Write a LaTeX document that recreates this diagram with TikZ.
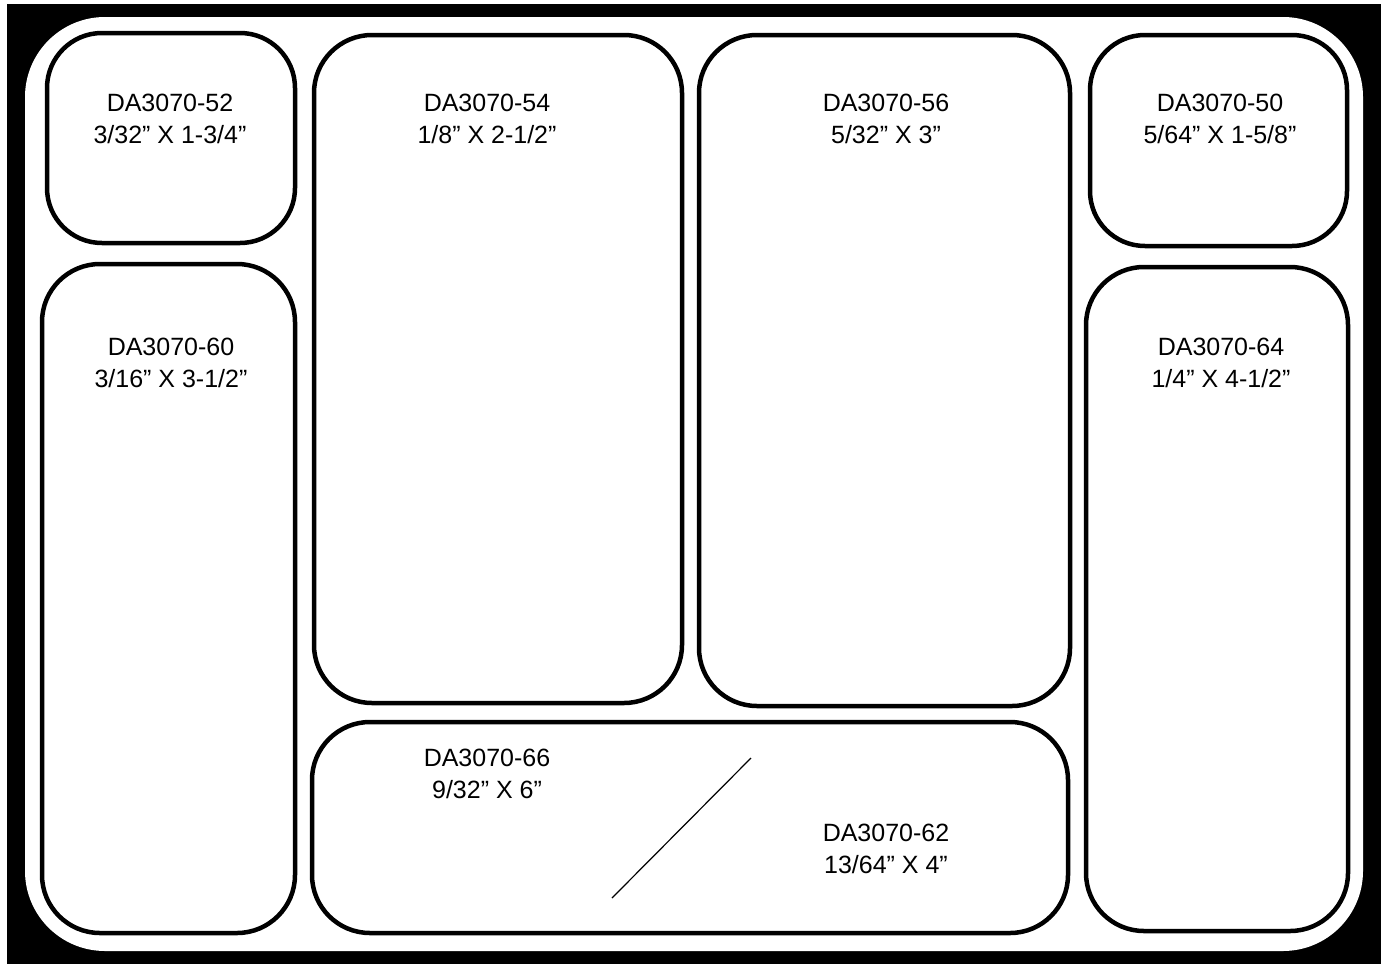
\documentclass[tikz,border=0pt]{standalone}
\usepackage{fontspec}
\setmainfont{Liberation Sans}
\begin{document}
\begin{tikzpicture}[
  x=1pt, y=-1pt,
  bin/.style ={draw,line width=4.5pt,rounded corners=58pt},
  tag/.style ={align=center,inner sep=0pt,
               font=\fontsize{25}{32}\selectfont},
  cut/.style ={line width=1.2pt}]
\useasboundingbox (0,0) rectangle (1381,964);

% --- black backing and white tray ---
\fill[black] (7,4) rectangle (1381,964);
\fill[white,rounded corners=80pt] (25,17) rectangle (1363,951);

% --- left column ---
\draw[bin,rounded corners=55pt] (47,33) rectangle (295,243);
\draw[bin] (42,264) rectangle (295,933);
\node[tag] (t52) at (170,119) {DA3070-52\\3/32” X 1-3/4”};
\node[tag] (t60) at (171,363) {DA3070-60\\3/16” X 3-1/2”};

% --- middle bins ---
\draw[bin] (314,35) rectangle (682,703);
\draw[bin] (699,35) rectangle (1070,706);
\node[tag] (t54) at (487,119) {DA3070-54\\1/8” X 2-1/2”};
\node[tag] (t56) at (886,119) {DA3070-56\\5/32” X 3”};

% --- right column ---
\draw[bin,rounded corners=55pt] (1090,35) rectangle (1347,246);
\draw[bin] (1086,267) rectangle (1348,931);
\node[tag] (t50) at (1220,119) {DA3070-50\\5/64” X 1-5/8”};
\node[tag] (t64) at (1221,363) {DA3070-64\\1/4” X 4-1/2”};

% --- long bottom bin, split by a diagonal ---
\draw[bin] (312,722) rectangle (1068,933);
\node[tag] (t66) at (487,774) {DA3070-66\\9/32” X 6”};
\node[tag] (t62) at (886,849) {DA3070-62\\13/64” X 4”};
\coordinate (cutA) at (612,898);
\coordinate (cutB) at (751,758);
\draw[cut] (cutA) -- (cutB);

\end{tikzpicture}
\end{document}
